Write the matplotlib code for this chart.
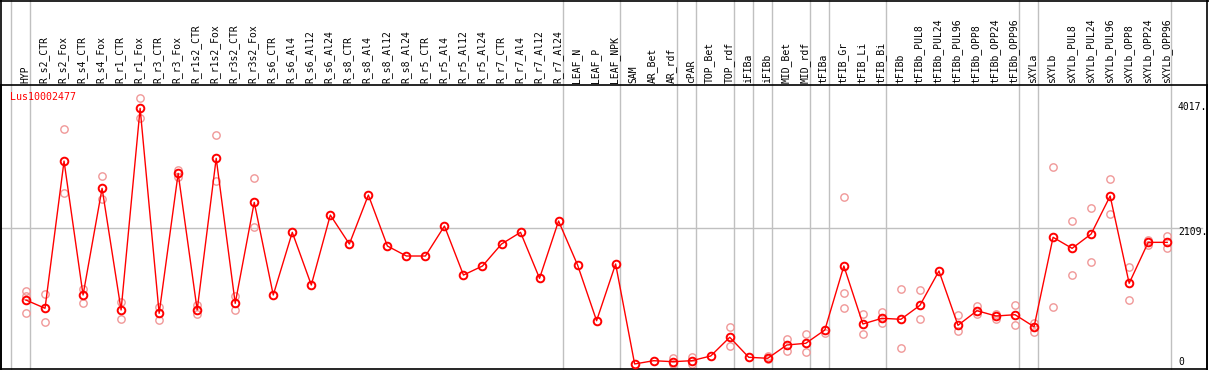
import numpy as np
import matplotlib
matplotlib.use('Agg')
import matplotlib.pyplot as plt
from matplotlib.transforms import blended_transform_factory

nan = np.nan

samples = ['HYP', 'R_s2_CTR', 'R_s2_Fox', 'R_s4_CTR', 'R_s4_Fox', 'R_r1_CTR', 'R_r1_Fox',
           'R_r3_CTR', 'R_r3_Fox', 'R_r1s2_CTR', 'R_r1s2_Fox', 'R_r3s2_CTR', 'R_r3s2_Fox',
           'R_s6_CTR', 'R_s6_Al4', 'R_s6_Al12', 'R_s6_Al24', 'R_s8_CTR', 'R_s8_Al4',
           'R_s8_Al12', 'R_s8_Al24', 'R_r5_CTR', 'R_r5_Al4', 'R_r5_Al12', 'R_r5_Al24',
           'R_r7_CTR', 'R_r7_Al4', 'R_r7_Al12', 'R_r7_Al24', 'LEAF_N', 'LEAF_P', 'LEAF_NPK',
           'SAM', 'AR_Bet', 'AR_rdf', 'cPAR', 'TOP_Bet', 'TOP_rdf', 'iFIBa', 'iFIBb',
           'MID_Bet', 'MID_rdf', 'tFIBa', 'tFIB_Gr', 'tFIB_Li', 'tFIB_Bi', 'tFIBb',
           'tFIBb_PUL8', 'tFIBb_PUL24', 'tFIBb_PUL96', 'tFIBb_OPP8', 'tFIBb_OPP24',
           'tFIBb_OPP96', 'sXYLa', 'sXYLb', 'sXYLb_PUL8', 'sXYLb_PUL24', 'sXYLb_PUL96',
           'sXYLb_OPP8', 'sXYLb_OPP24', 'sXYLb_OPP96']

mean_expr = [1008, 882, 3132, 1085, 2715, 856, 3938, 805, 2944, 856, 3174, 958, 2501,
             1085, 2043, 1238, 2307, 1864, 2613, 1834, 1681, 1681, 2139, 1390, 1528,
             1864, 2043, 1340, 2216, 1543, 692, 1559,
             31, 81, 66, 81, 153, 439, 133, 118, 321, 347, 550, 1528, 642, 729, 714,
             927, 1452, 622, 845, 764, 784, 600, 1967, 1798, 2017, 2598, 1264, 1890, 1890]

rep_hi = [1151, 1100, 3617, 1172, 2899, 973, 4090, 897, 2995, 932, 3525, 1070, 2868,
          nan, nan, nan, nan, nan, nan, nan, nan, nan, nan, nan, nan,
          nan, nan, nan, nan, nan, nan, nan,
          nan, nan, 118, 133, nan, 591, nan, 153, 413, 489, nan, 2578, 795, 821, 1172,
          1161, nan, 775, 917, 795, 927, 662, 3036, 2211, 2410, 2853, 1508, 1925, 1986]

rep_lo = [805, 668, 2639, 967, 2552, 714, 3785, 703, 2893, 790, 2831, 856, 2128,
          nan, nan, nan, nan, nan, nan, nan, nan, nan, nan, nan, nan,
          nan, nan, nan, nan, nan, nan, nan,
          nan, nan, 31, 31, nan, 306, nan, 102, 234, 218, 500, 891, 484, 662, 270,
          714, nan, 539, 795, 714, 631, 524, 906, 1386, 1594, 2318, 1008, 1849, 1798]

rep_mid = [1070] + [nan] * 42 + [1111] + [nan] * 17

# last sample index of each group (separator drawn right after it)
group_ends = [-1, 0, 28, 31, 34, 35, 37, 38, 39, 41, 42, 45, 52, 53, 60]

gene = 'Lus10002477'
y_marks = [4017, 2109, 0]

W, H = 1209, 370
fig = plt.figure(figsize=(W / 100, H / 100), dpi=100)
ax = fig.add_axes([1 / W, 1 / H, 1206 / W, 284 / H])

x = np.arange(len(samples))
px = 19.02  # pixels per sample
ax.set_xlim(-25 / px, 1181 / px)
sc = 0.06543  # pixels per unit
ax.set_ylim(-3 / sc, 281 / sc)
ax.set_xticks([])
ax.set_yticks([])
for s in ax.spines.values():
    s.set_linewidth(1.2)
    s.set_color('black')

mono = 'DejaVu Sans Mono'
grey = '#c0c0c0'

# horizontal guide
ax.plot([-25 / px, 1176 / px], [y_marks[1], y_marks[1]], color=grey, lw=1, zorder=1)

# vertical group separators through header
bt = blended_transform_factory(ax.transData, fig.transFigure)
for g in group_ends:
    ax.plot([g + 4.2 / px] * 2, [1 / H, 1], color=grey, lw=1, transform=bt,
            clip_on=False, zorder=1)

# replicates
for reps in (rep_hi, rep_lo, rep_mid):
    ax.plot(x, reps, ls='none', marker='o', ms=5.3, mfc='none', mec='#f09898',
            mew=1.0, zorder=2)

ax.plot(x, mean_expr, color='red', lw=1, marker='o', ms=5.5, mfc='none', mec='red',
        mew=1.4, zorder=3)

# sample labels
for i, s in enumerate(samples):
    ax.text(i - 0.05, (H - 83) / H, s, rotation=90, ha='center', va='bottom',
            fontsize=7, family=mono, transform=bt, clip_on=False)

# value labels on right (kept inside the plot box)
rt = blended_transform_factory(fig.transFigure, ax.transData)
for v in y_marks:
    ax.text(1178 / W, max(v - 4 / sc, 4 / sc), ('%d.' % v) if v else '0', ha='left',
            va='center', fontsize=7, family=mono, transform=rt, clip_on=False)

ax.text(10 / W, (H - 97) / H, gene, color='red', fontsize=7.2, family=mono,
        ha='left', va='center', transform=fig.transFigure)

# outer frame and header top line
fig.add_artist(plt.Line2D([0, 1], [1 - 0.5 / H, 1 - 0.5 / H], color='black', lw=1.2,
                          transform=fig.transFigure))
fig.add_artist(plt.Line2D([1206.5 / W, 1206.5 / W], [0, 1], color='black', lw=1.2,
                          transform=fig.transFigure))
fig.add_artist(plt.Line2D([1 / W, 1 / W], [0, 1], color='black', lw=1.2,
                          transform=fig.transFigure))

fig.savefig('out.png', dpi=100)
